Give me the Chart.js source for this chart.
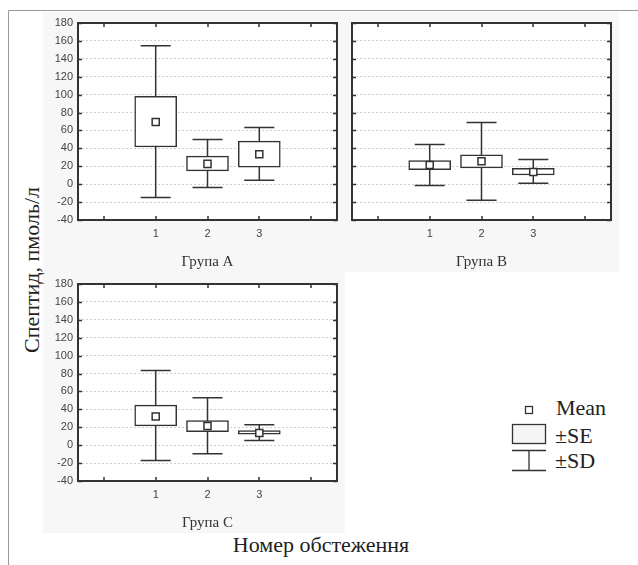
<!DOCTYPE html>
<html>
<head>
<meta charset="utf-8">
<script src="https://cdn.jsdelivr.net/npm/chart.js@4.4.1/dist/chart.umd.min.js"></script>
<style>
  html, body { margin: 0; padding: 0; background: #fff; }
  #page { position: relative; width: 638px; height: 565px; overflow: hidden; }
  #page svg { position: absolute; left: 0; top: 0; }
  canvas { position: absolute; }
  .serif { font-family: 'Liberation Serif', 'Times New Roman', 'DejaVu Serif', serif; }
</style>
</head>
<body>
<div id="page">
  <svg width="638" height="565">
    <rect x="43" y="12" width="576" height="260" fill="#f7f7f7"/>
    <rect x="43" y="272" width="302" height="261" fill="#f7f7f7"/>
    <path d="M8.5 565 V10.5 H638" fill="none" stroke="#9a9a9a" stroke-width="1"/>
    <g class="serif" font-size="22" fill="#222">
      <text transform="translate(31 270) rotate(-90)" text-anchor="middle" dominant-baseline="central">Спептид, пмоль/л</text>
      <text x="321" y="552" text-anchor="middle">Номер обстеження</text>
      <text x="556" y="415">Mean</text>
      <text x="555" y="443">±SE</text>
      <text x="555" y="468">±SD</text>
    </g>
    <g stroke="#333" stroke-width="1.3" fill="none">
      <rect x="525.5" y="406.5" width="7" height="7" fill="#fff"/>
      <rect x="512.5" y="424.5" width="33" height="19" fill="#f5f5f5"/>
      <path d="M512 450.5 H546 M529 450.5 V470.5 M512 470.5 H546"/>
    </g>
  </svg>
  <canvas id="chartA" width="310" height="262" style="left:40px;top:10px"></canvas>
  <canvas id="chartB" width="310" height="262" style="left:314px;top:10px"></canvas>
  <canvas id="chartC" width="310" height="262" style="left:40px;top:271px"></canvas>
</div>
<script>
const visits = [1, 2, 3];
const xTickValues = [0, 1, 2, 3, 4];
const xTickLabels = ['', '1', '2', '3', ''];

const meanA = [69.5, 22.7, 33.5];
const seLoA = [41.5, 14.8, 19.0];
const seHiA = [98.0, 31.3, 48.0];
const sdLoA = [-15.0, -3.8, 4.4];
const sdHiA = [154.5, 50.0, 63.3];

const meanB = [21.5, 25.6, 13.7];
const seLoB = [16.3, 18.2, 10.3];
const seHiB = [26.4, 32.7, 17.8];
const sdLoB = [-1.6, -18.0, 1.0];
const sdHiB = [44.3, 68.9, 27.5];

const meanC = [32.0, 21.5, 13.7];
const seLoC = [21.5, 15.2, 12.2];
const seHiC = [44.7, 27.5, 16.3];
const sdLoC = [-17.2, -9.7, 5.1];
const sdHiC = [83.4, 52.9, 22.7];

const LINE = '#333';
const TICK = '#444';
const CAP = 0.29;
const SANS = "'Liberation Sans', Arial, sans-serif";
const SERIF = "'Liberation Serif', 'Times New Roman', serif";

// white plot area, frame and inward tick marks
const framePlugin = {
  id: 'frame',
  beforeDraw(chart) {
    const { ctx, chartArea: a } = chart;
    ctx.save();
    ctx.fillStyle = '#fff';
    ctx.fillRect(a.left, a.top, a.right - a.left, a.bottom - a.top);
    ctx.restore();
  },
  afterDraw(chart) {
    const { ctx, chartArea: a, scales } = chart;
    ctx.save();
    ctx.strokeStyle = LINE;
    ctx.lineWidth = 1.5;
    ctx.beginPath();
    scales.y.ticks.forEach(t => {
      const py = Math.round(scales.y.getPixelForValue(t.value)) + 0.5;
      ctx.moveTo(a.left, py); ctx.lineTo(a.left + 4, py);
      ctx.moveTo(a.right - 4, py); ctx.lineTo(a.right, py);
    });
    scales.x.ticks.forEach(t => {
      const px = Math.round(scales.x.getPixelForValue(t.value));
      ctx.moveTo(px, a.top); ctx.lineTo(px, a.top + 4);
      ctx.moveTo(px, a.bottom - 4); ctx.lineTo(px, a.bottom);
    });
    ctx.stroke();
    ctx.lineWidth = 2;
    ctx.strokeRect(a.left, a.top, a.right - a.left, a.bottom - a.top);
    ctx.restore();
  }
};

function makePanel(id, title, mean, seLo, seHi, sdLo, sdHi, showYLabels) {
  const whisker = [];
  visits.forEach((v, i) => {
    whisker.push(
      { x: v, y: sdLo[i] }, { x: v, y: sdHi[i] }, { x: v, y: null },
      { x: v - CAP, y: sdHi[i] }, { x: v + CAP, y: sdHi[i] }, { x: v, y: null },
      { x: v - CAP, y: sdLo[i] }, { x: v + CAP, y: sdLo[i] }, { x: v, y: null }
    );
  });

  new Chart(document.getElementById(id), {
    type: 'bar',
    data: {
      datasets: [
        {
          type: 'line',
          data: whisker,
          borderColor: LINE,
          borderWidth: 1.5,
          pointRadius: 0,
          spanGaps: false,
          tension: 0,
          order: 3
        },
        {
          type: 'bar',
          data: visits.map((v, i) => ({ x: v, y: [seLo[i], seHi[i]] })),
          backgroundColor: '#fff',
          borderColor: LINE,
          borderWidth: 1.5,
          borderSkipped: false,
          barThickness: 42,
          order: 2
        },
        {
          type: 'scatter',
          data: visits.map((v, i) => ({ x: v, y: mean[i] })),
          pointStyle: 'rect',
          pointRadius: 5,
          pointBackgroundColor: '#fff',
          pointBorderColor: LINE,
          pointBorderWidth: 1.5,
          order: 1
        }
      ]
    },
    options: {
      responsive: false,
      animation: false,
      devicePixelRatio: 1,
      layout: { padding: { top: 13, right: 13, left: 0, bottom: 0 } },
      plugins: { legend: { display: false }, tooltip: { enabled: false } },
      scales: {
        x: {
          type: 'linear',
          min: -0.5,
          max: 4.5,
          offset: false,
          afterBuildTicks: s => { s.ticks = xTickValues.map(v => ({ value: v })); },
          afterFit: s => { s.height = 52; },
          grid: { display: false, drawTicks: false, offset: false },
          border: { display: false },
          ticks: {
            padding: 7,
            color: TICK,
            autoSkip: false,
            maxRotation: 0,
            font: { family: SANS, size: 11 },
            callback: (v, i) => xTickLabels[i]
          },
          title: {
            display: true,
            text: title,
            color: '#333',
            font: { family: SERIF, size: 15 },
            padding: { top: 0, bottom: 1 }
          }
        },
        y: {
          min: -40,
          max: 180,
          afterFit: s => { s.width = 38; },
          grid: { color: '#cfcfcf', lineWidth: 1, drawTicks: false },
          border: { display: false, dash: [2, 2] },
          ticks: {
            stepSize: 20,
            padding: 5,
            color: TICK,
            font: { family: SANS, size: 11 },
            callback: v => showYLabels ? v : ''
          }
        }
      }
    },
    plugins: [framePlugin]
  });
}

makePanel('chartA', 'Група A', meanA, seLoA, seHiA, sdLoA, sdHiA, true);
makePanel('chartB', 'Група B', meanB, seLoB, seHiB, sdLoB, sdHiB, false);
makePanel('chartC', 'Група C', meanC, seLoC, seHiC, sdLoC, sdHiC, true);
</script>
</body>
</html>
